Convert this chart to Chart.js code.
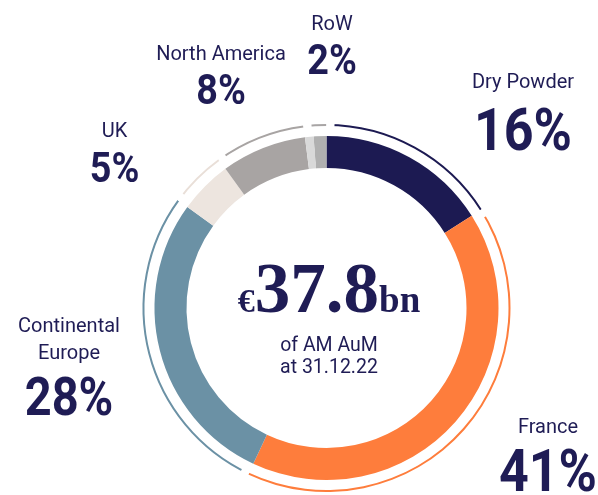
<!DOCTYPE html>
<html>
<head>
<meta charset="utf-8">
<script src="https://cdn.jsdelivr.net/npm/chart.js@4"></script>
<style>
html, body { margin: 0; padding: 0; background: #fff; }
#wrap { width: 598px; height: 495px; position: relative; }
</style>
</head>
<body>
<div id="wrap"><canvas id="aumChart"></canvas></div>
<script>
const categories = ['Dry Powder', 'France', 'Continental Europe', 'UK', 'North America', 'RoW'];
const shares = [16, 41, 28, 5, 8, 2];
const totalAum = '37.8';
const totalCaption = ['of AM AuM', 'at 31.12.22'];

const navy = '#1f1c55';
const ringColors = ['#1c1a52', '#fe7d3c', '#6b91a5', '#ede5df', '#a8a4a3', '#b0b0b0'];
const lineColors = ['#1c1a52', '#fe7d3c', '#6b91a5', '#e9dfd8', '#a8a4a3', '#a8a5a5'];

// where each label sits: centre x, name baselines, percentage baseline, digit height
const labelSpots = [
  {x: 523, name: [88], pct: 150, digits: 42},
  {x: 548, name: [433], pct: 491, digits: 42},
  {x: 69, name: [331.5, 359], pct: 415, digits: 38},
  {x: 114.5, name: [136.5], pct: 181.5, digits: 30.5},
  {x: 221, name: [59.5], pct: 104, digits: 30.5},
  {x: 332, name: [29.5], pct: 74, digits: 30.5}
];

const sansFont = 'Roboto, "Liberation Sans", sans-serif';
const serifFont = '"Liberation Serif", "DejaVu Serif", serif';

function rowFill(ctx) {
  const i = ctx.dataIndex;
  const area = ctx.chart.chartArea;
  if (i !== shares.length - 1 || !area) return ringColors[i];
  const total = shares.reduce((a, b) => a + b, 0);
  const from = shares.slice(0, i).reduce((a, b) => a + b, 0) / total;
  const split = from + (1 - from) * 0.4;
  const g = ctx.chart.ctx.createConicGradient(-Math.PI / 2,
    (area.left + area.right) / 2, (area.top + area.bottom) / 2);
  g.addColorStop(0, ringColors[i]);
  g.addColorStop(from, '#d9d9d9');
  g.addColorStop(split, '#d9d9d9');
  g.addColorStop(split + 0.0005, ringColors[i]);
  g.addColorStop(1, ringColors[i]);
  return g;
}

// white breaks at the start of every thin outer arc
const thinGaps = {
  id: 'thinGaps',
  afterDatasetsDraw(chart) {
    const c = chart.ctx;
    c.save();
    c.strokeStyle = '#ffffff';
    chart.getDatasetMeta(0).data.forEach(arc => {
      const r = (arc.innerRadius + arc.outerRadius) / 2;
      c.lineWidth = arc.outerRadius - arc.innerRadius + 2;
      c.beginPath();
      c.arc(arc.x, arc.y, r, arc.startAngle - 0.002, arc.startAngle + 8 / r);
      c.stroke();
    });
    c.restore();
  }
};

const textLabels = {
  id: 'textLabels',
  afterDraw(chart) {
    const c = chart.ctx;
    c.save();
    c.fillStyle = navy;
    c.textAlign = 'center';
    c.textBaseline = 'alphabetic';
    categories.forEach((name, i) => {
      const spot = labelSpots[i];
      const lines = spot.name.length > 1 ? name.split(' ') : [name];
      c.font = '400 20px ' + sansFont;
      lines.forEach((line, k) => c.fillText(line, spot.x, spot.name[k]));
      c.save();
      c.translate(spot.x, spot.pct);
      c.scale(0.88, 1);
      c.font = '700 ' + (spot.digits / 0.711).toFixed(1) + 'px ' + sansFont;
      c.fillText(shares[i] + '%', 0, 0);
      c.restore();
    });

    // centre total
    const cx = 329, base = 312;
    const parts = [
      {t: '€', f: '700 34px ' + serifFont},
      {t: totalAum, f: '700 71px ' + serifFont},
      {t: 'bn', f: '700 37px ' + serifFont}
    ];
    let width = 0;
    parts.forEach(p => { c.font = p.f; p.w = c.measureText(p.t).width; width += p.w; });
    let x = cx - width / 2;
    c.textAlign = 'left';
    parts.forEach(p => { c.font = p.f; c.fillText(p.t, x, base); x += p.w; });
    c.textAlign = 'center';
    c.font = '400 19.5px ' + sansFont;
    c.fillText(totalCaption[0], cx, 350.5);
    c.fillText(totalCaption[1], cx, 373);
    c.restore();
  }
};

const ctx = document.getElementById('aumChart').getContext('2d');
new Chart(ctx, {
  type: 'doughnut',
  data: {
    labels: categories,
    datasets: [
      {
        data: shares,
        backgroundColor: lineColors,
        borderWidth: 0,
        weight: 2
      },
      {
        data: shares,
        backgroundColor: 'rgba(0,0,0,0)',
        borderWidth: 0,
        weight: 10
      },
      {
        data: shares,
        backgroundColor: rowFill,
        borderWidth: 0,
        weight: 32
      }
    ]
  },
  options: {
    responsive: true,
    maintainAspectRatio: false,
    animation: false,
    events: [],
    radius: 184,
    cutout: '76.087%',
    layout: {
      padding: {left: 141.5, right: 86.5, top: 123, bottom: 2}
    },
    plugins: {
      legend: {display: false},
      tooltip: {enabled: false}
    }
  },
  plugins: [thinGaps, textLabels]
});
</script>
</body>
</html>
